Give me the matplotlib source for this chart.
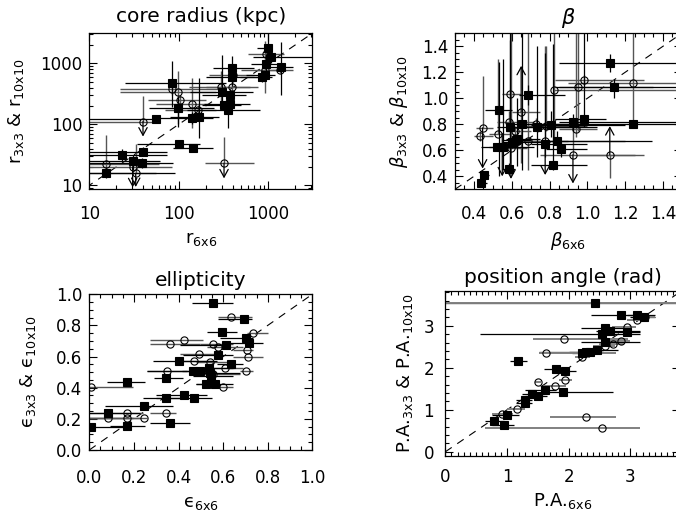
import matplotlib
matplotlib.use("Agg")
import matplotlib.pyplot as plt
import numpy as np
from matplotlib.ticker import MultipleLocator, FixedLocator, FixedFormatter, LogLocator, NullFormatter

# ---- core radius (kpc) ----
# filled squares
r_sq_x = [15.3, 23.4, 30.5, 38.5, 39.5, 56, 84.5, 98.6, 101, 145, 142, 166, 300, 320, 358, 372, 372, 396, 396,
          843, 918, 933, 1000, 1062, 1375]
r_sq_y = [16.1, 31.4, 25, 23, 35.6, 122, 470, 183, 47.7, 40.5, 125, 130, 343, 207, 172, 213, 303, 849, 604,
          590, 644, 980, 1808, 1285, 882]
r_sq_xlo = [10, 10, 10, 10, 10, 10, 25, 46, 34, 87, 62, 80, 133, 180, 122, 190, 180, 240, 200,
            480, 560, 640, 750, 680, 900]
r_sq_xhi = [90, 73, 61, 87, 73, 61, 340, 245, 172, 243, 243, 280, 680, 500, 800, 620, 560, 700, 800,
            1100, 1200, 1300, 1100, 3100, 1900]
r_sq_ylo = [13, 25, 18, 19, 30, 105, 195, 90, 42, 36, 100, 60, 170, 180, 86, 185, 250, 420, 450,
            500, 540, 700, 1200, 1000, 300]
r_sq_yhi = [20, 40, 32, 28, 42, 140, 1090, 280, 54, 46, 160, 570, 1370, 240, 306, 245, 370, 1300, 800,
            700, 760, 1400, 3100, 1650, 2250]
# open circles
r_ci_x = [15.3, 30.5, 33, 39.8, 84.5, 97, 103, 139, 165, 295, 396, 405, 320, 954, 918, 1340]
r_ci_y = [22.1, 20.2, 15.7, 111, 375, 343, 250, 213, 172, 404, 404, 644, 23, 1405, 777, 777]
r_ci_xlo = [10, 10, 10, 10, 22, 22, 45, 55, 70, 130, 200, 220, 197, 600, 500, 750]
r_ci_xhi = [60, 85, 55, 55, 300, 260, 200, 230, 260, 620, 760, 700, 690, 1500, 1300, 1900]
r_ci_ylo = [18, 20.2, 15.7, 111, 300, 100, 210, 87, 140, 200, 330, 500, 23, 1100, 330, 700]
r_ci_yhi = [67, 25, 47.7, 288, 460, 740, 300, 570, 210, 740, 480, 800, 63, 1700, 2300, 900]
# upper limits (arrows)
r_arr_x = [30.5, 33, 39.8, 320]
r_arr_from = [20.2, 15.7, 111, 23]
r_arr_to = [9.3, 9.4, 63, 13]

# ---- beta ----
b_sq_x = [0.44, 0.453, 0.531, 0.52, 0.554, 0.586, 0.591, 0.60, 0.621, 0.63, 0.653, 0.685, 0.733, 0.775,
          0.807, 0.821, 0.842, 0.86, 0.926, 0.984, 1.119, 1.142, 1.241]
b_sq_y = [0.348, 0.413, 0.908, 0.628, 0.628, 0.46, 0.776, 0.662, 0.68, 0.685, 0.80, 1.024, 0.776, 0.646,
          0.796, 0.485, 0.675, 0.607, 0.817, 0.843, 1.27, 1.084, 0.804]
b_sq_xlo = [0.42, 0.43, 0.46, 0.44, 0.48, 0.55, 0.52, 0.55, 0.55, 0.57, 0.58, 0.64, 0.65, 0.70,
            0.70, 0.70, 0.76, 0.78, 0.85, 0.83, 0.85, 0.83, 0.85]
b_sq_xhi = [0.47, 0.48, 0.60, 0.62, 0.72, 0.62, 0.95, 0.80, 0.70, 0.75, 1.00, 0.88, 1.05, 1.00,
            1.20, 1.00, 1.34, 1.00, 1.55, 1.10, 1.55, 1.55, 1.55]
b_sq_ylo = [0.34, 0.40, 0.40, 0.60, 0.45, 0.42, 0.50, 0.62, 0.64, 0.48, 0.45, 0.95, 0.55, 0.55,
            0.70, 0.45, 0.60, 0.55, 0.75, 0.78, 1.20, 1.00, 0.78]
b_sq_yhi = [0.36, 0.43, 1.28, 0.66, 1.30, 0.50, 1.55, 0.70, 0.72, 1.00, 1.55, 1.10, 1.40, 1.35,
            0.90, 1.42, 0.75, 0.66, 0.88, 1.55, 1.34, 1.15, 0.83]
b_ci_x = [0.434, 0.446, 0.529, 0.589, 0.586, 0.596, 0.62, 0.65, 0.687, 0.731, 0.78, 0.777, 0.823,
          0.95, 0.98, 0.942, 0.924, 1.119, 1.241]
b_ci_y = [0.708, 0.773, 0.729, 1.03, 0.817, 0.618, 0.745, 0.895, 0.672, 0.80, 0.789, 0.67, 1.063,
          1.09, 1.144, 0.765, 0.566, 0.566, 1.12]
b_ci_xlo = [0.40, 0.41, 0.48, 0.55, 0.52, 0.55, 0.57, 0.60, 0.60, 0.66, 0.65, 0.70, 0.82,
            0.85, 0.83, 0.85, 0.75, 0.95, 0.90]
b_ci_xhi = [0.50, 0.50, 0.60, 0.65, 0.72, 0.68, 0.70, 0.75, 1.20, 0.85, 1.00, 0.90, 1.55,
            1.35, 1.30, 1.05, 1.25, 1.30, 1.55]
b_ci_ylo = [0.67, 0.773, 0.729, 0.45, 0.75, 0.618, 0.70, 0.50, 0.45, 0.75, 0.75, 0.67, 0.70,
            0.75, 1.10, 0.70, 0.566, 0.384, 0.80]
b_ci_yhi = [0.75, 1.17, 1.30, 1.45, 0.90, 1.55, 0.79, 0.895, 1.55, 0.85, 1.40, 1.40, 1.55,
            1.55, 1.18, 1.55, 0.80, 0.566, 1.55]
b_arr_x = [0.446, 0.55, 0.596, 0.65, 0.777, 0.924, 1.119]
b_arr_from = [0.773, 0.729, 0.618, 0.895, 0.67, 0.566, 0.566]
b_arr_to = [0.46, 0.40, 0.38, 1.25, 0.41, 0.345, 0.786]

# ---- ellipticity ----
e_sq_x = [0.556, 0.695, 0.596, 0.704, 0.717, 0.611, 0.578, 0.40, 0.635, 0.538, 0.541, 0.466, 0.496,
          0.544, 0.342, 0.17, 0.522, 0.562, 0.426, 0.469, 0.345, 0.245, 0.085, 0.363, 0.169, 0.006]
e_sq_y = [0.945, 0.842, 0.758, 0.72, 0.69, 0.674, 0.61, 0.573, 0.552, 0.526, 0.495, 0.505, 0.505,
          0.474, 0.463, 0.438, 0.421, 0.421, 0.352, 0.337, 0.331, 0.28, 0.236, 0.173, 0.154, 0.147]
e_sq_xlo = [0.459, 0.578, 0.529, 0.586, 0.616, 0.407, 0.42, 0.287, 0.571, 0.466, 0.48, 0.257, 0.414,
            0.466, 0.29, 0.081, 0.48, 0.48, 0.30, 0.30, 0.242, 0.07, 0.0, 0.27, 0.093, 0.0]
e_sq_xhi = [0.646, 0.728, 0.661, 0.735, 0.78, 0.631, 0.646, 0.571, 0.69, 0.646, 0.675, 0.556, 0.526,
            0.646, 0.42, 0.25, 0.556, 0.646, 0.526, 0.549, 0.436, 0.377, 0.227, 0.451, 0.25, 0.167]
e_ci_x = [0.635, 0.735, 0.426, 0.362, 0.556, 0.578, 0.706, 0.493, 0.469, 0.541, 0.713, 0.61, 0.347,
          0.556, 0.703, 0.598, 0.006, 0.167, 0.085, 0.167, 0.245, 0.342]
e_ci_y = [0.857, 0.752, 0.705, 0.68, 0.678, 0.661, 0.642, 0.615, 0.573, 0.568, 0.60, 0.526, 0.505,
          0.49, 0.505, 0.404, 0.404, 0.238, 0.206, 0.206, 0.206, 0.238]
e_ci_xlo = [0.578, 0.705, 0.272, 0.272, 0.496, 0.526, 0.646, 0.407, 0.392, 0.48, 0.646, 0.556, 0.257,
            0.466, 0.676, 0.526, 0.0, 0.0, 0.0, 0.0, 0.0, 0.272]
e_ci_xhi = [0.728, 0.80, 0.51, 0.496, 0.646, 0.69, 0.735, 0.571, 0.556, 0.646, 0.78, 0.69, 0.436,
            0.675, 0.735, 0.646, 0.197, 0.242, 0.197, 0.227, 0.26, 0.39]

# ---- position angle (rad) ----
p_sq_x = [2.42, 2.854, 3.114, 3.216, 2.584, 2.665, 2.546, 2.951, 2.584, 2.465, 2.351, 2.276, 2.222,
          1.178, 1.80, 1.946, 1.622, 1.908, 1.41, 1.503, 1.286, 1.286, 1.005, 0.789, 0.946]
p_sq_y = [3.556, 3.254, 3.254, 3.222, 2.944, 2.88, 2.80, 2.865, 2.625, 2.427, 2.387, 2.37, 2.347,
          2.164, 1.965, 1.925, 1.472, 1.432, 1.368, 1.33, 1.233, 1.17, 0.875, 0.73, 0.636]
p_sq_xlo = [-1.0, 2.37, 2.95, 3.0, 2.2, 2.45, 0.56, 2.6, 2.2, 2.2, 2.0, 1.52, 2.05,
            1.05, 1.60, 1.75, 1.3, 1.55, 1.25, 1.30, 1.15, 1.15, 0.75, 0.65, 0.75]
p_sq_xhi = [5.0, 3.40, 3.25, 3.4, 2.95, 3.15, 3.15, 3.15, 3.15, 2.8, 2.55, 2.55, 2.45,
            1.32, 2.00, 2.12, 1.8, 2.72, 1.60, 1.65, 1.40, 1.40, 1.20, 0.95, 1.12]
p_ci_x = [2.42, 2.94, 3.24, 3.11, 1.919, 1.627, 2.222, 2.59, 2.72, 2.854, 1.503, 1.784, 1.946,
          1.162, 0.924, 2.286, 2.546]
p_ci_y = [3.556, 2.97, 3.21, 3.15, 2.69, 2.36, 2.26, 2.51, 2.57, 2.65, 1.667, 1.563, 1.706,
          1.03, 0.897, 0.833, 0.556]
p_ci_xlo = [-1.0, 2.7, 3.1, 2.95, 1.42, 1.52, 2.1, 2.4, 2.5, 2.6, 1.45, 1.6, 1.85,
            1.0, 0.75, 1.69, 0.65]
p_ci_xhi = [5.0, 3.1, 3.4, 3.3, 2.96, 2.77, 2.35, 2.75, 2.9, 3.0, 1.55, 1.95, 2.05,
            1.30, 1.10, 2.77, 3.15]


def draw_series(ax, x, y, xlo, xhi, ylo, yhi, marker, face, ecolor, lw, bar_z=2):
    x = np.asarray(x, float)
    y = np.asarray(y, float)
    xerr = [x - np.asarray(xlo, float), np.asarray(xhi, float) - x]
    yerr = None
    if ylo is not None:
        yerr = [y - np.asarray(ylo, float), np.asarray(yhi, float) - y]
    ax.errorbar(x, y, xerr=xerr, yerr=yerr, fmt='none', ecolor=ecolor, elinewidth=lw,
                capsize=0, zorder=bar_z)
    ax.plot(x, y, ls='none', marker=marker, ms=5.2, mfc=face, mec='black', mew=0.8, zorder=3)


def draw_arrows(ax, xs, y0s, y1s, color):
    for xa, y0, y1 in zip(xs, y0s, y1s):
        ax.annotate('', xy=(xa, y1), xytext=(xa, y0),
                    arrowprops=dict(arrowstyle='->,head_length=0.55,head_width=0.3', color=color,
                                    lw=0.9, shrinkA=0, shrinkB=0))


def style(ax, xpad, ypad):
    ax.tick_params(which='both', direction='in', top=True, right=True, labelsize=12, width=0.8)
    ax.tick_params(which='major', length=6)
    ax.tick_params(which='minor', length=3)
    ax.tick_params(axis='x', pad=xpad)
    ax.tick_params(axis='y', pad=ypad)
    for s in ax.spines.values():
        s.set_linewidth(0.9)


def identity(ax, lo, hi):
    ax.plot([lo, hi], [lo, hi], color='black', lw=0.8, dashes=(7, 6), zorder=1)


plt.rcParams['font.family'] = 'DejaVu Sans'
plt.rcParams['mathtext.fontset'] = 'dejavusans'

fig = plt.figure(figsize=(6.76, 5.11), dpi=100)
ax1 = fig.add_axes([0.1321, 0.6295, 0.3299, 0.3053])
ax2 = fig.add_axes([0.6731, 0.6295, 0.3355, 0.3053])
ax3 = fig.add_axes([0.1321, 0.1194, 0.3299, 0.3047])
ax4 = fig.add_axes([0.6587, 0.1076, 0.3467, 0.3229])

sq_col, ci_col = 'black', '#555555'

# core radius
ax1.set_xscale('log')
ax1.set_yscale('log')
identity(ax1, 5, 5000)
draw_series(ax1, r_ci_x, r_ci_y, r_ci_xlo, r_ci_xhi, r_ci_ylo, r_ci_yhi, 'o', 'none', ci_col, 1.0)
draw_series(ax1, r_sq_x, r_sq_y, r_sq_xlo, r_sq_xhi, r_sq_ylo, r_sq_yhi, 's', 'black', sq_col, 0.9)
draw_arrows(ax1, r_arr_x, r_arr_from, r_arr_to, 'black')
ax1.set_xlim(10, 3100)
ax1.set_ylim(8.6, 3100)
for axis in (ax1.xaxis, ax1.yaxis):
    axis.set_major_locator(FixedLocator([10, 100, 1000]))
    axis.set_major_formatter(FixedFormatter(['10', '100', '1000']))
    axis.set_minor_locator(LogLocator(base=10, subs=range(2, 10)))
    axis.set_minor_formatter(NullFormatter())
style(ax1, 11, 5)
ax1.set_title('core radius (kpc)', fontsize=14.5, pad=8)
ax1.set_xlabel(r'$\mathregular{r_{6x6}}$', fontsize=13, labelpad=5)
ax1.set_ylabel(r'$\mathregular{r_{3x3}}$ & $\mathregular{r_{10x10}}$', fontsize=13, labelpad=10)

# beta
identity(ax2, 0.3, 1.5)
draw_series(ax2, b_ci_x, b_ci_y, b_ci_xlo, b_ci_xhi, b_ci_ylo, b_ci_yhi, 'o', 'none', ci_col, 1.0)
draw_series(ax2, b_sq_x, b_sq_y, b_sq_xlo, b_sq_xhi, b_sq_ylo, b_sq_yhi, 's', 'black', sq_col, 0.9)
draw_arrows(ax2, b_arr_x, b_arr_from, b_arr_to, 'black')
ax2.set_xlim(0.3, 1.5)
ax2.set_ylim(0.3, 1.5)
for axis in (ax2.xaxis, ax2.yaxis):
    axis.set_major_locator(FixedLocator([0.4, 0.6, 0.8, 1.0, 1.2, 1.4]))
    axis.set_major_formatter(FixedFormatter(['0.4', '0.6', '0.8', '1.0', '1.2', '1.4']))
    axis.set_minor_locator(MultipleLocator(0.05))
style(ax2, 11, 5)
ax2.set_title(r'$\beta$', fontsize=15, pad=7)
ax2.set_xlabel(r'$\beta_{\mathregular{6x6}}$', fontsize=13, labelpad=5)
ax2.set_ylabel(r'$\beta_{\mathregular{3x3}}$ & $\beta_{\mathregular{10x10}}$', fontsize=13, labelpad=8)

# ellipticity
identity(ax3, 0, 1)
draw_series(ax3, e_ci_x, e_ci_y, e_ci_xlo, e_ci_xhi, None, None, 'o', 'none', ci_col, 1.0)
draw_series(ax3, e_sq_x, e_sq_y, e_sq_xlo, e_sq_xhi, None, None, 's', 'black', sq_col, 0.9)
ax3.set_xlim(0, 1)
ax3.set_ylim(0, 1)
for axis in (ax3.xaxis, ax3.yaxis):
    axis.set_major_locator(FixedLocator([0, 0.2, 0.4, 0.6, 0.8, 1.0]))
    axis.set_major_formatter(FixedFormatter(['0.0', '0.2', '0.4', '0.6', '0.8', '1.0']))
    axis.set_minor_locator(MultipleLocator(0.05))
style(ax3, 14, 5)
ax3.set_title('ellipticity', fontsize=14.5, pad=6)
ax3.set_xlabel('\u03f5$_{\\mathregular{6x6}}$', fontsize=13, labelpad=5)
ax3.set_ylabel('\u03f5$_{\\mathregular{3x3}}$ & \u03f5$_{\\mathregular{10x10}}$', fontsize=13,
               labelpad=13)

# position angle
identity(ax4, 0, 4)
draw_series(ax4, p_sq_x, p_sq_y, p_sq_xlo, p_sq_xhi, None, None, 's', 'black', sq_col, 0.9)
draw_series(ax4, p_ci_x, p_ci_y, p_ci_xlo, p_ci_xhi, None, None, 'o', 'none', '#808080', 1.4, bar_z=2.5)
ax4.set_xlim(0, 3.8)
ax4.set_ylim(-0.1, 3.83)
for axis in (ax4.xaxis, ax4.yaxis):
    axis.set_major_locator(FixedLocator([0, 1, 2, 3]))
    axis.set_major_formatter(FixedFormatter(['0', '1', '2', '3']))
ax4.xaxis.set_minor_locator(MultipleLocator(0.1))
ax4.yaxis.set_minor_locator(MultipleLocator(0.2))
style(ax4, 8.5, 8)
ax4.set_title('position angle (rad)', fontsize=14.5, pad=6)
ax4.set_xlabel(r'P.A.$_{\mathregular{6x6}}$', fontsize=13, labelpad=4)
ax4.set_ylabel(r'P.A.$_{\mathregular{3x3}}$ & P.A.$_{\mathregular{10x10}}$', fontsize=13, labelpad=6)

fig.savefig('out.png', dpi=100)
